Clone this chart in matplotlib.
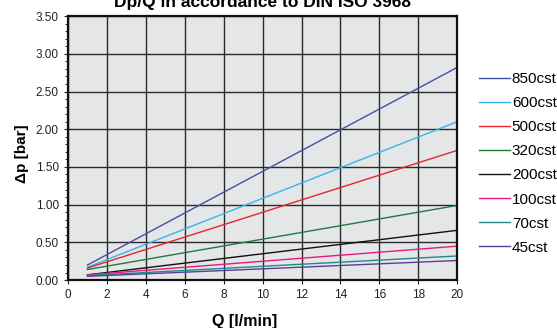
import numpy as np
import matplotlib
matplotlib.use("Agg")
import matplotlib.pyplot as plt
from matplotlib.ticker import MultipleLocator, FormatStrFormatter

plt.rcParams["font.family"] = ["Liberation Sans", "DejaVu Sans"]

# flow rate [l/min]
q = [1, 20]

# pressure drop [bar] per viscosity
labels = ["850cst", "600cst", "500cst", "320cst", "200cst", "100cst", "70cst", "45cst"]
dp_850 = [0.20, 2.82]
dp_600 = [0.17, 2.10]
dp_500 = [0.16, 1.72]
dp_320 = [0.14, 0.99]
dp_200 = [0.07, 0.66]
dp_100 = [0.07, 0.45]
dp_70 = [0.06, 0.32]
dp_45 = [0.05, 0.26]
series = [dp_850, dp_600, dp_500, dp_320, dp_200, dp_100, dp_70, dp_45]
colors = ["#4351a6", "#35b6e6", "#e5262c", "#1f7a42", "#111111",
          "#e8197c", "#1c8c84", "#5b3d9c"]

fig = plt.figure(figsize=(5.57, 3.28), dpi=100)
ax = fig.add_axes([0.122, 0.146, 0.699, 0.805])
ax.set_facecolor("#e5e6e8")

for s, c, lab in zip(series, colors, labels):
    ax.plot(q, s, color=c, lw=1.0, label=lab)

ax.set_xlim(0, 20)
ax.set_ylim(0, 3.5)
ax.xaxis.set_major_locator(MultipleLocator(2))
ax.yaxis.set_major_locator(MultipleLocator(0.5))
ax.yaxis.set_minor_locator(MultipleLocator(0.1))
ax.yaxis.set_major_formatter(FormatStrFormatter("%.2f"))
ax.grid(True, which="major", color="#2a2a2a", lw=1.0)
ax.set_axisbelow(True)
ax.tick_params(axis="both", which="major", labelsize=8.5, colors="#222222",
               direction="out", length=3)
ax.tick_params(axis="y", which="minor", length=2, direction="out")
for sp in ax.spines.values():
    sp.set_linewidth(1.6)
    sp.set_color("#111111")

# title sits partly above the top edge, as in the source image
fig.text(0.471, 0.979, "Dp/Q in accordance to DIN ISO 3968", fontsize=12.5,
         fontweight="bold", ha="center", va="baseline")
ax.set_xlabel("Q [l/min]", fontsize=11.5, fontweight="bold", labelpad=9)
ax.xaxis.label.set_x(0.455)
ax.set_ylabel("\u0394p [bar]", fontsize=11, fontweight="bold", labelpad=5)
ax.yaxis.label.set_y(0.48)

ax.legend(loc="upper left", bbox_to_anchor=(1.04, 0.811), frameon=False,
          fontsize=11, handlelength=2.0, handletextpad=0.15, labelspacing=0.66,
          borderaxespad=0)

fig.savefig("out.png", dpi=100)
